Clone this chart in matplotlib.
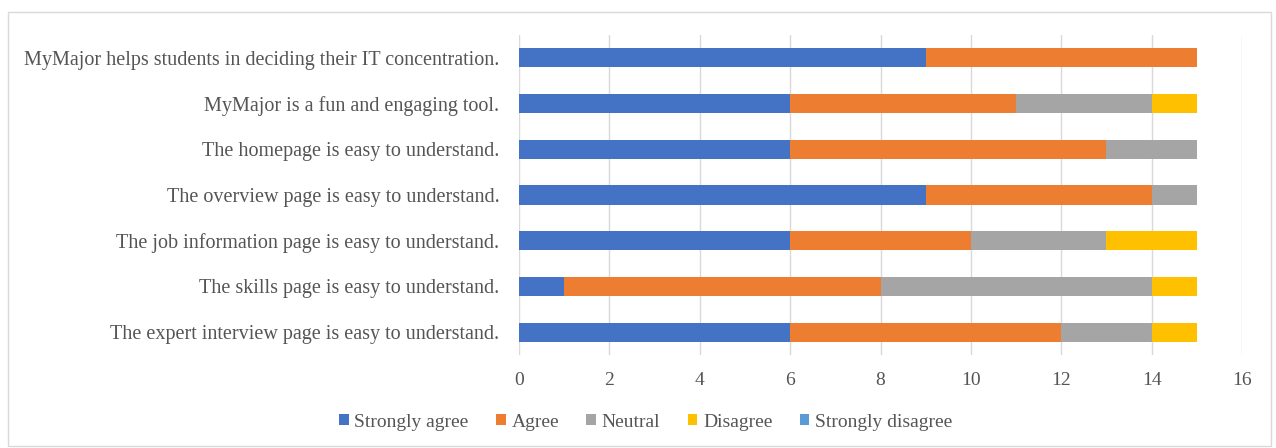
import matplotlib.pyplot as plt
import numpy as np

plt.rcParams['font.family'] = ['Liberation Serif', 'DejaVu Serif']

statements = [
    "MyMajor helps students in deciding their IT concentration.",
    "MyMajor is a fun and engaging tool.",
    "The homepage is easy to understand.",
    "The overview page is easy to understand.",
    "The job information page is easy to understand.",
    "The skills page is easy to understand.",
    "The expert interview page is easy to understand.",
]
strongly_agree = [9, 6, 6, 9, 6, 1, 6]
agree = [6, 5, 7, 5, 4, 7, 6]
neutral = [0, 3, 2, 1, 3, 6, 2]
disagree = [0, 1, 0, 0, 2, 1, 1]
strongly_disagree = [0, 0, 0, 0, 0, 0, 0]

responses = ["Strongly agree", "Agree", "Neutral", "Disagree", "Strongly disagree"]
colors = ["#4472C4", "#ED7D31", "#A5A5A5", "#FFC000", "#5B9BD5"]
series = [strongly_agree, agree, neutral, disagree, strongly_disagree]

text_color = "#555555"

fig = plt.figure(figsize=(12.76, 4.48), dpi=100)
ax = fig.add_axes([0.4067, 0.2076, 0.5667, 0.7143])

# first statement at the top
y = np.arange(len(statements))[::-1]
left = np.zeros(len(statements))
for name, vals, col in zip(responses, series, colors):
    ax.barh(y, vals, left=left, height=0.42, color=col, label=name, zorder=3)
    left += np.array(vals)

ax.set_xlim(0, 16)
ax.set_ylim(-0.5, len(statements) - 0.5)
ax.set_xticks(range(0, 17, 2))
ax.set_yticks(y)
ax.set_yticklabels(statements, fontsize=14.5)
ax.tick_params(axis='both', length=0, colors=text_color)
ax.tick_params(axis='x', pad=12, labelsize=14)
ax.tick_params(axis='y', pad=14)
ax.grid(axis='x', color="#D9D9D9", lw=1, zorder=0)
for s in ax.spines.values():
    s.set_visible(False)

leg = fig.legend(loc='center', bbox_to_anchor=(0.506, 0.058), ncol=5, frameon=False,
                 fontsize=14, handlelength=0.5, handleheight=0.5,
                 handletextpad=0.3, columnspacing=1.4)
for t in leg.get_texts():
    t.set_color(text_color)

# light frame around the whole chart
fig.patches.append(plt.Rectangle((0.006, 0.005), 0.99, 0.968, transform=fig.transFigure,
                                 fill=False, edgecolor="#D9D9D9", lw=1))

fig.savefig("out.png", dpi=100)
